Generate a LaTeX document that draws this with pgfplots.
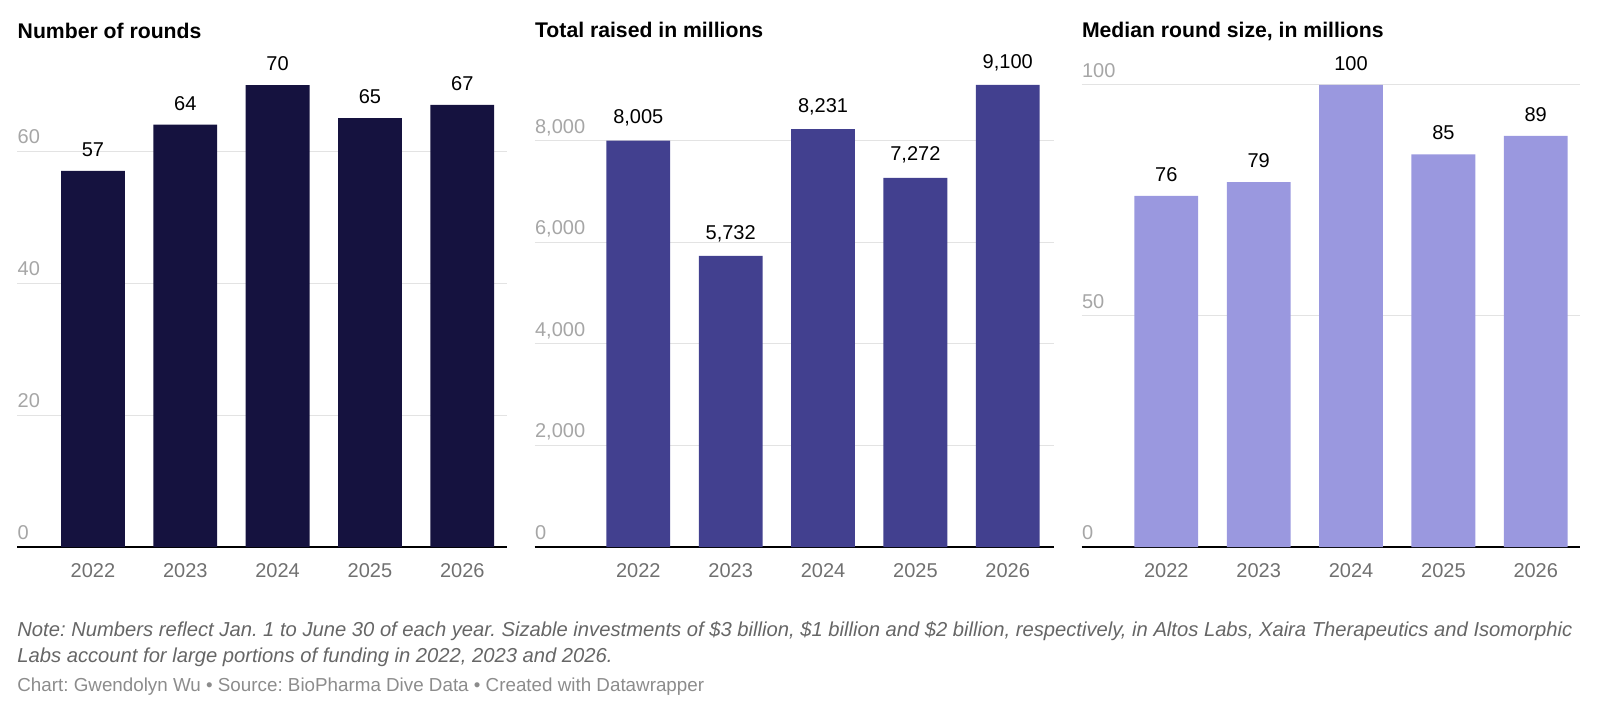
\documentclass[border=0pt]{standalone}
\usepackage{fontspec}
\setmainfont{Liberation Sans}
\usepackage{pgfplots}
\pgfplotsset{compat=1.18}
\frenchspacing

\definecolor{barA}{HTML}{15123F}
\definecolor{barB}{HTML}{42408F}
\definecolor{barC}{HTML}{9A98DF}
\definecolor{gridgray}{HTML}{E3E3E3}
\definecolor{tickgray}{HTML}{A6A6A6}
\definecolor{yeargray}{HTML}{707070}
\definecolor{notegray}{HTML}{666666}
\definecolor{creditgray}{HTML}{8C8C8C}

\newcommand{\numfont}{\fontsize{10}{12}\selectfont}

\pgfplotsset{
  panel/.style={
    scale only axis,
    height=231pt,
    anchor=south west,
    ymin=0,
    clip=false,
    axis line style={draw=none},
    major tick length=0pt,
    tick style={draw=none},
    ymajorgrids,
    grid style={color=gridgray, line width=0.5pt},
    extra y ticks={0},
    extra y tick labels={},
    extra y tick style={grid style={black, line width=0.8pt}},
    yticklabel style={anchor=base west, inner sep=0pt, yshift=3.8pt,
      font=\numfont, text=tickgray},
    xtick={0,...,4},
    xticklabels={2022,2023,2024,2025,2026},
    xticklabel style={anchor=base, inner sep=0pt, yshift=-15.2pt,
      font=\numfont, text=yeargray},
    ybar,
    bar width=31.9pt,
    bar shift=0pt,
    nodes near coords,
    nodes near coords style={anchor=south, inner sep=0pt, yshift=7pt,
      font=\numfont, text=black},
    title style={at={(0,1)}, anchor=base west, inner sep=0pt, yshift=17.5pt,
      font=\fontsize{10.6}{12}\selectfont\bfseries},
    /pgf/number format/1000 sep={,},
    /pgf/number format/assume math mode=true,
  },
}

\begin{document}
\begin{tikzpicture}
\useasboundingbox (0,0) rectangle (800pt,-357.5pt);

% Number of deals
\begin{axis}[panel, at={(8.65pt,-273.5pt)}, width=244.85pt,
    xmin=-0.819, xmax=4.484, ymax=70,
    ytick={0,20,40,60},
    title={Number of rounds}]
  \addplot[fill=barA, draw=none] coordinates {(0,57) (1,64) (2,70) (3,65) (4,67)};
\end{axis}

% Total capital
\begin{axis}[panel, at={(267.35pt,-273.5pt)}, width=259.65pt,
    xmin=-1.122, xmax=4.501, ymax=9100,
    ytick={0,2000,4000,6000,8000},
    title={Total raised in millions}]
  \addplot[fill=barB, draw=none] coordinates {(0,8005) (1,5732) (2,8231) (3,7272) (4,9100)};
\end{axis}

% Median size
\begin{axis}[panel, at={(540.8pt,-273.5pt)}, width=249pt,
    xmin=-0.917, xmax=4.475, ymax=100,
    ytick={0,50,100},
    title={Median round size, in millions}]
  \addplot[fill=barC, draw=none] coordinates {(0,76) (1,79) (2,100) (3,85) (4,89)};
\end{axis}

\node[anchor=base west, inner sep=0pt, text=notegray,
      font=\fontsize{10.1}{12}\selectfont\itshape] at (8.5pt,-318.3pt)
  {Note: Numbers reflect Jan. 1 to June 30 of each year. Sizable investments of \$3 billion, \$1 billion and \$2 billion, respectively, in Altos Labs, Xaira Therapeutics and Isomorphic};
\node[anchor=base west, inner sep=0pt, text=notegray,
      font=\fontsize{10.1}{12}\selectfont\itshape] at (8.5pt,-331pt)
  {Labs account for large portions of funding in 2022, 2023 and 2026.};
\node[anchor=base west, inner sep=0pt, text=creditgray,
      font=\fontsize{9.4}{11}\selectfont] at (8.5pt,-345.5pt)
  {Chart: Gwendolyn Wu • Source: BioPharma Dive Data • Created with Datawrapper};
\end{tikzpicture}
\end{document}
